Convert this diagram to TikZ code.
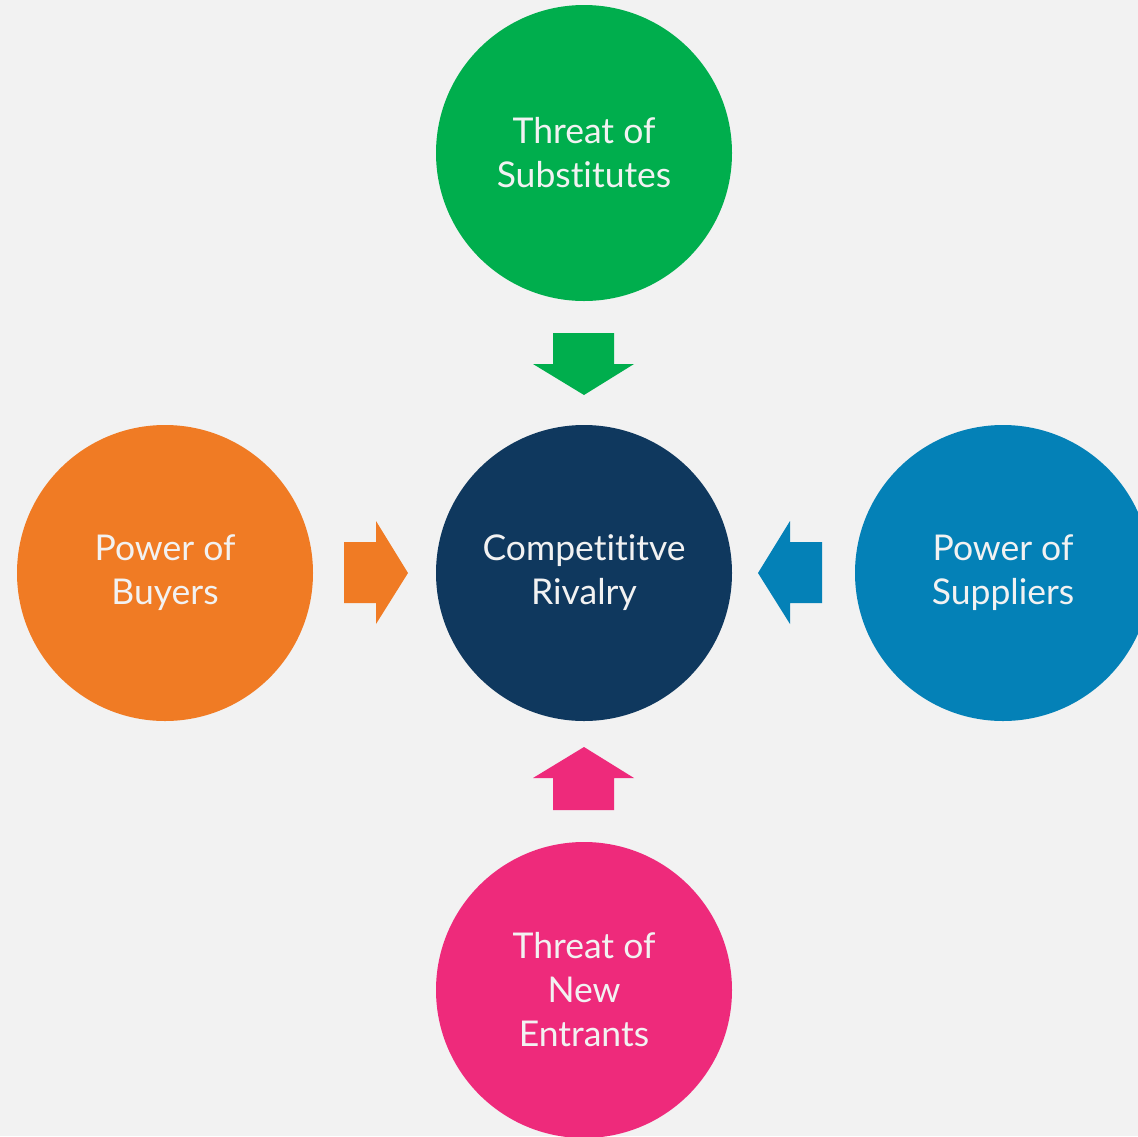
\documentclass[tikz,border=0pt]{standalone}
\usepackage{fontspec}
\setmainfont[Ligatures={NoCommon,NoRare,NoDiscretionary}]{Lato}
\definecolor{bgcol}{HTML}{F2F2F2}
\definecolor{rivalcol}{HTML}{0F385E}
\definecolor{subcol}{HTML}{00AE4D}
\definecolor{buycol}{HTML}{F07B24}
\definecolor{supcol}{HTML}{0481B7}
\definecolor{newcol}{HTML}{EE2A7B}
\begin{document}
\begin{tikzpicture}[x=1pt,y=-1pt,
  force/.style={circle, minimum size=296pt, inner sep=0pt, text=bgcol,
    align=center, font=\fontsize{35.5}{44}\selectfont},
  arrowfill/.style={fill=#1, draw=none}]
  \useasboundingbox (0,0) rectangle (1138,1136);
  \fill[bgcol] (0,0) rectangle (1138,1136);
  \clip (0,0) rectangle (1138,1136);

  % the five forces
  \node[force, fill=rivalcol] (rival) at (584,573) {Competititve\\Rivalry};
  \node[force, fill=subcol]   (subst) at (584,153) {Threat of\\Substitutes};
  \node[force, fill=buycol]   (buy)   at (165,573) {Power of\\Buyers};
  \node[force, fill=supcol]   (supp)  at (1003,573) {Power of\\Suppliers};
  \node[force, fill=newcol]   (entr)  at (584,990) {Threat of\\New\\Entrants};

  % block arrows pointing at the centre
  \fill[arrowfill=subcol] (553,333) -- (614,333) -- (614,364) -- (634,364)
    -- (584,395) -- (533,364) -- (553,364) -- cycle;
  \fill[arrowfill=newcol] (553,810) -- (614,810) -- (614,778) -- (634,778)
    -- (584,747) -- (533,778) -- (553,778) -- cycle;
  \fill[arrowfill=buycol] (344,542) -- (376,542) -- (376,521) -- (408,573)
    -- (376,624) -- (376,603) -- (344,603) -- cycle;
  \fill[arrowfill=supcol] (822,542) -- (790,542) -- (790,521) -- (758,573)
    -- (790,624) -- (790,603) -- (822,603) -- cycle;
\end{tikzpicture}
\end{document}
